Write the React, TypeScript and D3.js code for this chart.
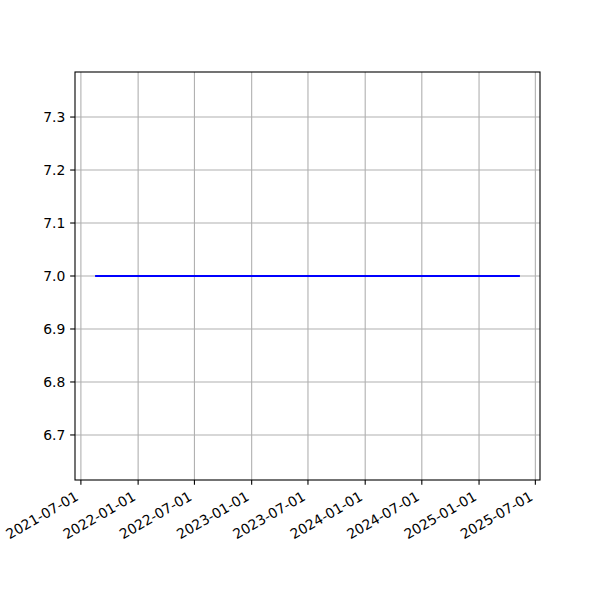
import React from "react";
import * as d3 from "d3";

const dates: string[] = ["2021-08-19", "2025-05-09"];
const values: number[] = [7.0, 7.0];
const yTicks: number[] = [6.7, 6.8, 6.9, 7.0, 7.1, 7.2, 7.3];
const xTickLabels: string[] = [
  "2021-07-01", "2022-01-01", "2022-07-01", "2023-01-01", "2023-07-01",
  "2024-01-01", "2024-07-01", "2025-01-01", "2025-07-01",
];

const W = 600, H = 600;
const L = 75, R = 540, T = 72, B = 480;
const FONT = "DejaVu Sans, sans-serif";
const FS = 13.9;
const TICK = 4.86;

export default function App() {
  const parse = d3.utcParse("%Y-%m-%d");
  const pts = dates.map((d, i) => ({ t: parse(d)!, v: values[i] }));
  const [t0, t1] = d3.extent(pts, (p) => p.t) as [Date, Date];
  const span = +t1 - +t0;
  const x = d3.scaleUtc()
    .domain([new Date(+t0 - span * 0.05), new Date(+t1 + span * 0.05)])
    .range([L, R]);
  const vmin = d3.min(values)!, vmax = d3.max(values)!;
  let lo = vmin, hi = vmax;
  if (hi - lo < 1e-12) { lo = vmin - Math.abs(vmin) * 0.05; hi = vmax + Math.abs(vmax) * 0.05; }
  const m = (hi - lo) * 0.05;
  const y = d3.scaleLinear().domain([lo - m, hi + m]).range([B, T]);
  const line = d3.line<{ t: Date; v: number }>().x((p) => x(p.t)).y((p) => y(p.v));
  const xt = xTickLabels.map((s) => ({ s, t: parse(s)! }));

  return (
    <div style={{ position: "absolute", left: 0, top: 0 }}>
      <svg width={W} height={H} style={{ display: "block", background: "#fff" }}>
        <rect x={0} y={0} width={W} height={H} fill="#fff" />
        {/* grid */}
        {xt.map((d) => (
          <line key={"gx" + d.s} x1={x(d.t)} x2={x(d.t)} y1={T} y2={B} stroke="#b0b0b0" strokeWidth={1.1} />
        ))}
        {yTicks.map((v) => (
          <line key={"gy" + v} x1={L} x2={R} y1={y(v)} y2={y(v)} stroke="#b0b0b0" strokeWidth={1.1} />
        ))}
        {/* data line */}
        <path d={line(pts)!} fill="none" stroke="#0000ff" strokeWidth={2.08} strokeLinecap="square" />
        {/* spines */}
        <rect x={L} y={T} width={R - L} height={B - T} fill="none" stroke="#000" strokeWidth={1.1} />
        {/* y ticks */}
        {yTicks.map((v) => (
          <g key={"ty" + v}>
            <line x1={L - TICK} x2={L} y1={y(v)} y2={y(v)} stroke="#000" strokeWidth={1.1} />
            <text x={L - TICK - 4.86} y={y(v)} dy="0.35em" textAnchor="end" fontFamily={FONT} fontSize={FS} fill="#000">
              {d3.format(".1f")(v)}
            </text>
          </g>
        ))}
        {/* x ticks */}
        {xt.map((d) => {
          const tx = x(d.t);
          const lx = tx - 1.5;
          const ly = B + TICK + 4.86 + 9.5;
          return (
            <g key={"tx" + d.s}>
              <line x1={tx} x2={tx} y1={B} y2={B + TICK} stroke="#000" strokeWidth={1.1} />
              <text x={lx} y={ly} textAnchor="end" transform={`rotate(-30, ${lx}, ${ly})`} fontFamily={FONT} fontSize={FS} fill="#000">
                {d.s}
              </text>
            </g>
          );
        })}
      </svg>
    </div>
  );
}
